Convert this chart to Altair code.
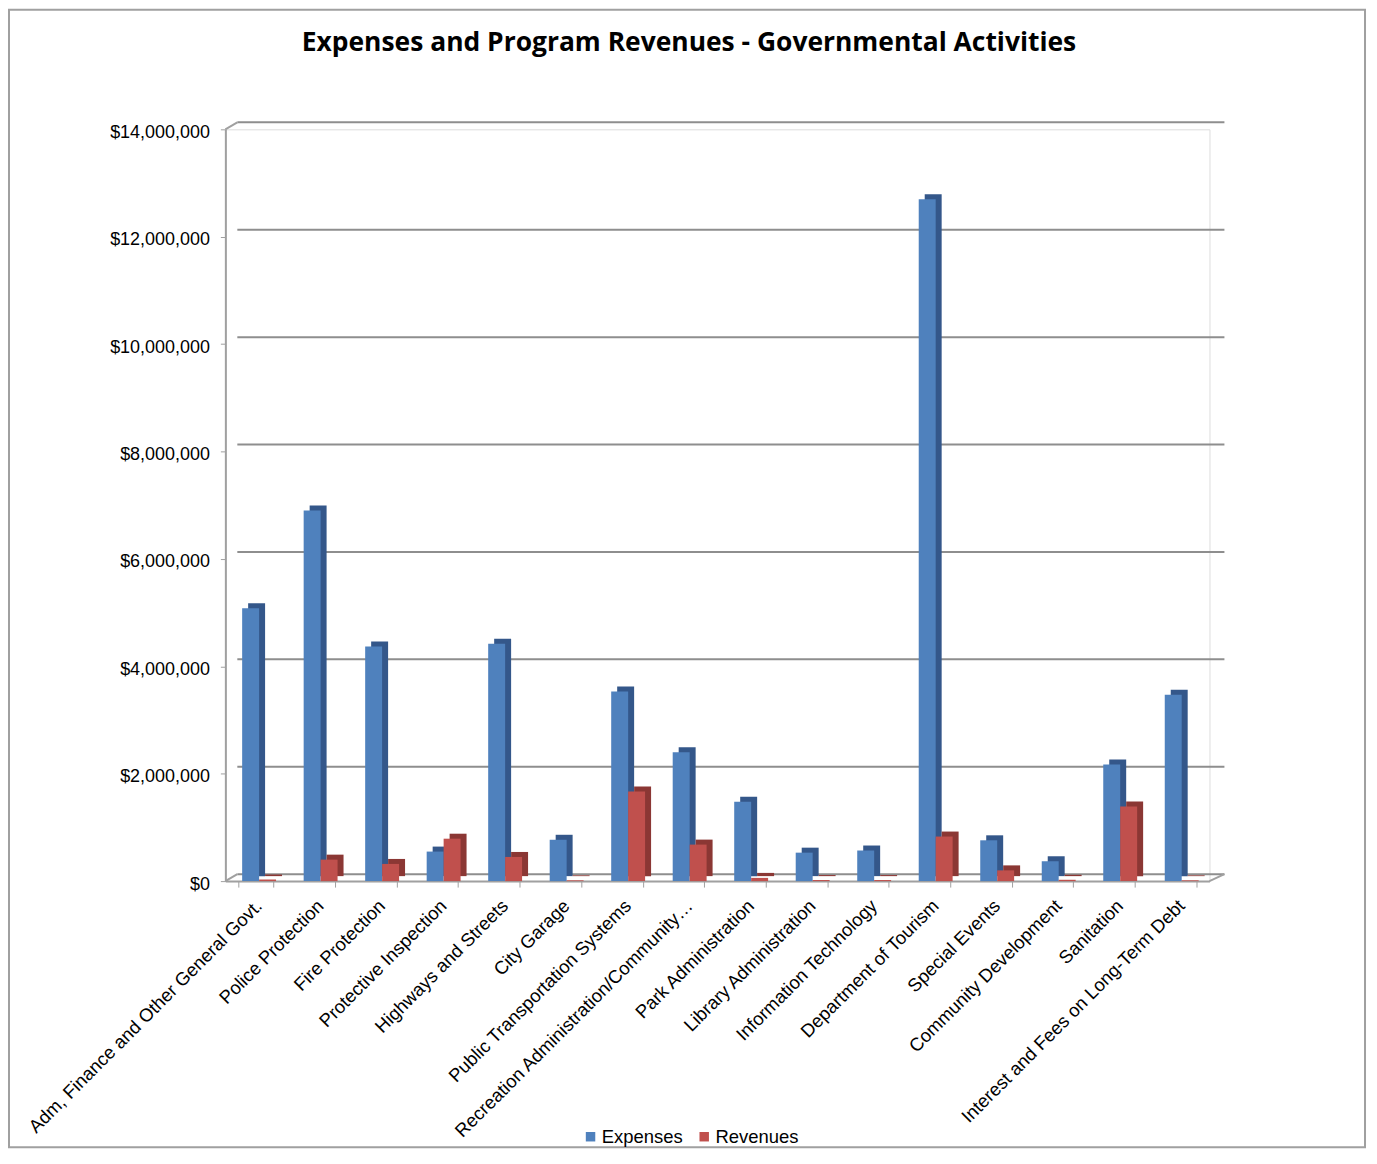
import altair as alt
import pandas as pd

categories = [
    "Adm, Finance and Other General Govt.",
    "Police Protection",
    "Fire Protection",
    "Protective Inspection",
    "Highways and Streets",
    "City Garage",
    "Public Transportation Systems",
    "Recreation Administration/Community…",
    "Park Administration",
    "Library Administration",
    "Information Technology",
    "Department of Tourism",
    "Special Events",
    "Community Development",
    "Sanitation",
    "Interest and Fees on Long-Term Debt",
]
expenses = [5080000, 6900000, 4370000, 550000, 4420000, 770000, 3530000, 2400000,
            1480000, 530000, 570000, 12700000, 760000, 370000, 2170000, 3470000]
revenues = [30000, 400000, 320000, 790000, 450000, 15000, 1670000, 680000,
            60000, 20000, 20000, 830000, 200000, 25000, 1390000, 15000]
series = ["Expenses", "Revenues"]
y_ticks = [0, 2000000, 4000000, 6000000, 8000000, 10000000, 12000000, 14000000]
title_text = "Expenses and Program Revenues - Governmental Activities"

rows = []
for c, e, r in zip(categories, expenses, revenues):
    rows.append({"Category": c, "Series": "Expenses", "Value": e})
    rows.append({"Category": c, "Series": "Revenues", "Value": r})
df = pd.DataFrame(rows)

W, H = 987, 754
FONT = "Liberation Sans"
BLUE, BLUE_D = "#4F81BD", "#34578A"
RED, RED_D = "#C0504D", "#8B3734"
GRID = "#8E8E8E"
AXC = "#A0A0A0"

x_enc = alt.X("Category:N", sort=categories,
              scale=alt.Scale(paddingInner=0.43, paddingOuter=0.215),
              axis=alt.Axis(title=None, labelAngle=-45, labelFont=FONT, labelFontSize=18.5,
                            labelColor="#000", domainColor=AXC, domainWidth=2,
                            tickColor=AXC, tickSize=6, tickBand="extent",
                            labelPadding=9, labelOffset=-4, labelLimit=400))
y_scale = alt.Scale(domain=[0, 14000000], nice=False)
y_axis = alt.Axis(title=None, values=y_ticks, format="$,.0f", grid=False,
                  labelFont=FONT, labelFontSize=18, labelColor="#000",
                  domainColor=AXC, domainWidth=2, tickColor=AXC,
                  tickSize=5, labelPadding=11, labelOffset=3)
y_enc = alt.Y("Value:Q", scale=y_scale, axis=y_axis)

base = alt.Chart(df)
one = pd.DataFrame({"a": [0]})

# outer frame
frame = alt.Chart(one).mark_rect(fill=None, stroke=AXC, strokeWidth=2).encode(
    x=alt.value(-217), x2=alt.value(1143), y=alt.value(-120), y2=alt.value(1021))

# title as a text mark
title = alt.Chart(one).mark_text(font="Open Sans", fontSize=26.5, fontWeight="bold",
                                 color="#000", align="center", baseline="alphabetic").encode(
    x=alt.value(465), y=alt.value(-79), text=alt.value(title_text))

# back-wall gridlines
grid = alt.Chart(pd.DataFrame({"v": y_ticks})).mark_rule(
    color=GRID, strokeWidth=2, yOffset=-7).encode(
    y=alt.Y("v:Q", scale=y_scale, axis=y_axis), x=alt.value(12), x2=alt.value(W + 15))

def diag(x1, y1, x2, y2):
    return alt.Chart(one).mark_rule(color=AXC, strokeWidth=2).encode(
        x=alt.value(x1), y=alt.value(y1), x2=alt.value(x2), y2=alt.value(y2))

diags = [diag(0, 0, 12, -7), diag(0, H, 12, H - 7), diag(W, H, W + 15, H - 7)]

def bars(name, dx, dark, legend):
    d = base.transform_filter(alt.datum.Series == name)
    shadow = d.mark_bar(size=17, xOffset=dx + 6, yOffset=-5, y2Offset=-5, color=dark).encode(
        x=x_enc, y=y_enc)
    face = d.mark_bar(size=17, xOffset=dx).encode(
        x=x_enc, y=y_enc,
        color=alt.Color("Series:N", scale=alt.Scale(domain=series, range=[BLUE, RED]),
                        legend=legend))
    return shadow, face

legend = alt.Legend(title=None, orient="none", legendX=357, legendY=1001, direction="horizontal",
                    symbolType="square", symbolSize=90, symbolStrokeWidth=0,
                    labelFont=FONT, labelFontSize=18.5, labelColor="#000", columnPadding=12,
                    symbolOffset=0, labelOffset=2)

es, ef = bars("Expenses", -5.5, BLUE_D, legend)
rs, rf = bars("Revenues", 11.5, RED_D, legend)

chart = alt.layer(frame, grid, *diags, es, ef, rs, rf, title).properties(
    width=W, height=H,
    autosize=alt.AutoSizeParams(type="none"),
    padding={"left": 218, "top": 120, "right": 160, "bottom": 268},
).configure_view(stroke=None).configure(background="white")

chart.save("out.html", embed_options={"renderer": "svg", "actions": False})
